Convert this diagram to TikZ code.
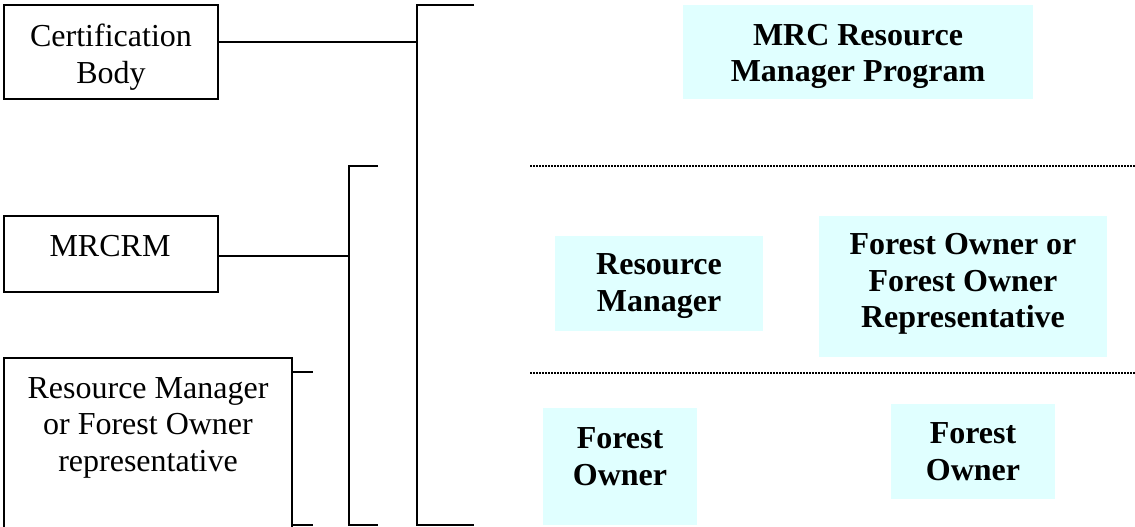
\documentclass[tikz,border=0pt]{standalone}
\usepackage{fontspec}
\setmainfont{Liberation Serif}
\definecolor{lc}{HTML}{E0FFFF}
\begin{document}
\begin{tikzpicture}[x=1pt,y=-1pt,
  wbox/.style={draw=black, line width=1.5pt, inner sep=0pt},
  cbox/.style={fill=lc, inner sep=0pt},
  txt/.style={font=\fontsize{32}{36.5}\selectfont, align=center, inner sep=0pt},
  btxt/.style={font=\fontsize{32}{36.5}\selectfont\bfseries, align=center, inner sep=0pt},
  link/.style={line width=1.5pt},
  sep/.style={line width=2.2pt, dash pattern=on 1.8pt off 1.2pt}]
\useasboundingbox (0,0) rectangle (1135,527);
\clip (0,0) rectangle (1135,527);
% left boxes
\node[wbox, minimum width=214pt, minimum height=94pt] (cert) at (111,52) {};
\node[txt] (certt) at (111,57) {Certification\\Body};
\node[wbox, minimum width=214pt, minimum height=76pt] (mrcrm) at (111,254) {};
\node[txt] (mrcrmt) at (110,246) {MRCRM};
\node[wbox, minimum width=288pt, minimum height=202pt] (rmfo) at (148,459) {};
\node[txt] (rmfot) at (148,427.5) {Resource Manager\\or Forest Owner\\representative};
% brackets
\coordinate (Atop) at (417,5);
\coordinate (Abot) at (417,525);
\coordinate (Aend1) at (474,5);
\coordinate (Aend2) at (474,525);
\draw[link] (Aend1) -- (Atop) -- (Abot) -- (Aend2);
\coordinate (Btop) at (349,166);
\coordinate (Bbot) at (349,525);
\coordinate (Bend1) at (378,166);
\coordinate (Bend2) at (378,525);
\draw[link] (Bend1) -- (Btop) -- (Bbot) -- (Bend2);
\coordinate (Ct) at (313,372);
\coordinate (Cb) at (313,525);
\draw[link] (Ct -| rmfo.east) -- (Ct);
\draw[link] (Cb -| rmfo.east) -- (Cb);
\draw[link] ([yshift=10pt]cert.east) -- ([yshift=10pt]cert.east -| Atop);
\draw[link] ([yshift=-2pt]mrcrm.east) -- ([yshift=-2pt]mrcrm.east -| Btop);
% separators
\coordinate (s1a) at (530,166);
\coordinate (s1b) at (1136,166);
\coordinate (s2a) at (530,373);
\coordinate (s2b) at (1136,373);
\draw[sep] (s1a) -- (s1b);
\draw[sep] (s2a) -- (s2b);
% right boxes
\node[cbox, minimum width=350pt, minimum height=94pt] (mrc) at (858,52) {};
\node[btxt] (mrct) at (858,56.5) {MRC Resource\\Manager Program};
\node[cbox, minimum width=208pt, minimum height=95pt] (rm) at (659,283.5) {};
\node[btxt] (rmt) at (659,286) {Resource\\Manager};
\node[cbox, minimum width=288pt, minimum height=141pt] (forep) at (963,286.5) {};
\node[btxt] (forept) at (963,284) {Forest Owner or\\Forest Owner\\Representative};
\node[cbox, minimum width=154pt, minimum height=117pt] (fo1) at (620,466.5) {};
\node[btxt] (fo1t) at (620,456.7) {Forest\\Owner};
\node[cbox, minimum width=164pt, minimum height=95pt] (fo2) at (973,451.5) {};
\node[btxt] (fo2t) at (973,451.7) {Forest\\Owner};
\end{tikzpicture}
\end{document}
